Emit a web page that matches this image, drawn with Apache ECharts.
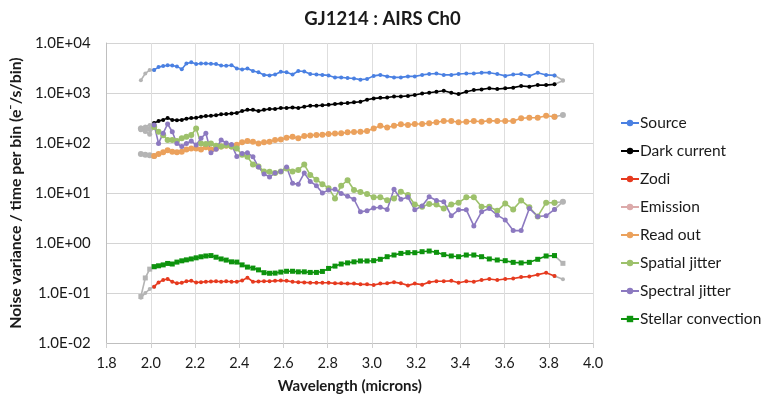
<!DOCTYPE html>
<html>
<head>
<meta charset="utf-8">
<script src="https://cdn.jsdelivr.net/npm/echarts@6/dist/echarts.min.js"></script>
<style>
  html, body { margin: 0; padding: 0; background: #fff; }
  #chart { width: 765px; height: 400px; }
</style>
</head>
<body>
<div id="chart"></div>
<script>
// Wavelength bins (microns); first three and last bins lie at the band edges.
const wavelengths = [
  1.955,1.975,1.995,2.015,2.035,2.056,2.076,2.097,2.118,2.140,
  2.161,2.183,2.205,2.227,2.249,2.272,2.295,2.318,2.341,2.365,
  2.389,2.413,2.437,2.462,2.487,2.512,2.537,2.562,2.588,2.614,
  2.641,2.667,2.694,2.721,2.749,2.776,2.804,2.833,2.861,2.890,
  2.919,2.948,2.978,3.008,3.038,3.069,3.100,3.131,3.163,3.194,
  3.227,3.259,3.292,3.325,3.359,3.392,3.427,3.461,3.496,3.531,
  3.567,3.603,3.639,3.675,3.712,3.750,3.788,3.826,3.864
];
const edgeStart = 3;   // bins before this index are edge bins
const edgeEnd = 67;    // bins after this index are edge bins

const source = [
  1800,2450,2900,2900,3300,3450,3600,3550,3400,3000,
  3900,4100,3800,3900,3900,3850,3800,3550,3500,3600,
  3100,2950,3100,2750,2600,2300,2250,2350,2650,2600,
  2350,2750,2700,2400,2350,2300,2250,2050,2050,2000,
  1950,1850,1900,2200,2300,2150,2050,2050,2150,2150,
  2300,2400,2450,2300,2300,2400,2450,2450,2550,2550,
  2400,2200,2350,2400,2200,2550,2300,2250,1800
];
const darkCurrent = [
  205,215,230,250,275,290,315,290,285,290,
  305,315,320,335,345,350,360,375,380,390,
  400,435,460,460,435,460,480,480,500,500,
  515,500,530,555,555,570,580,600,620,630,
  650,670,730,780,800,810,850,850,875,915,
  980,1010,1060,1110,1010,950,1060,1150,1180,1240,
  1200,1240,1280,1380,1340,1440,1440,1490,1750
];
const zodi = [
  0.080,0.100,0.120,0.134,0.163,0.182,0.190,0.168,0.156,0.160,
  0.172,0.175,0.163,0.165,0.168,0.170,0.172,0.168,0.172,0.168,
  0.168,0.178,0.203,0.168,0.170,0.172,0.172,0.175,0.178,0.175,
  0.168,0.165,0.163,0.160,0.160,0.160,0.160,0.156,0.156,0.154,
  0.154,0.149,0.149,0.145,0.154,0.156,0.165,0.156,0.142,0.154,
  0.147,0.165,0.172,0.172,0.175,0.160,0.172,0.168,0.182,0.190,
  0.182,0.190,0.195,0.208,0.214,0.233,0.255,0.219,0.188
];
const emission = [];
const readOut = [
  60,58,57,55,60,65,72,67,65,67,
  74,78,78,74,82,74,78,85,88,85,
  92,103,110,106,98,103,106,115,118,128,
  134,125,138,142,145,147,152,154,156,164,
  166,168,173,196,222,205,222,236,230,240,
  240,248,260,275,275,260,267,275,267,280,
  275,275,275,312,320,320,350,335,363
];
const spatialJitter = [
  195,200,190,210,168,143,115,115,110,124,
  134,145,195,98,95,98,88,85,90,85,
  78,58,53,37,34,27,26.5,25,27,31,
  27,29,37,23,18.5,15,12.5,7.8,14,18,
  11.5,10.5,9.5,8.2,8.2,7.2,7.8,10.6,9.1,5.9,
  5.3,6.0,5.9,4.9,5.9,6.4,8.2,8.2,5.3,5.3,
  4.4,6.2,4.7,7.1,5.2,3.4,6.4,6.4,6.7
];
const spectralJitter = [
  185,170,150,230,98,157,240,168,98,85,
  98,110,91,124,157,64,75,115,100,93,
  54,62,64,53,33,24,21,25,27,33,
  15.6,15,25,17,14,10,11.5,11.9,9.8,8.6,
  7.5,4.2,4.4,5.0,5.2,4.7,11.9,7.5,8.2,4.6,
  5.5,8.4,7.1,6.7,3.5,4.6,4.6,2.2,4.2,4.9,
  3.6,2.9,1.77,1.77,4.9,3.4,3.5,4.7,6.7
];
const stellarConvection = [
  0.085,0.2,0.3,0.336,0.35,0.365,0.39,0.38,0.415,0.44,
  0.46,0.48,0.505,0.53,0.55,0.56,0.52,0.48,0.455,0.42,
  0.415,0.365,0.33,0.315,0.29,0.255,0.248,0.25,0.262,0.272,
  0.272,0.265,0.265,0.258,0.258,0.27,0.31,0.345,0.38,0.4,
  0.42,0.437,0.437,0.443,0.472,0.532,0.575,0.62,0.64,0.64,
  0.67,0.69,0.65,0.585,0.55,0.532,0.575,0.575,0.532,0.48,
  0.457,0.443,0.41,0.4,0.41,0.472,0.55,0.56,0.392
];

const yTicks = [0.01, 0.1, 1, 10, 100, 1000, 10000];

const FONT = 'Lato';
const EDGE_GREY = '#b4b4b4';

const seriesDefs = [
  { name: 'Source',             values: source,            color: '#4a80e2', symbol: 'circle', size: 4 },
  { name: 'Dark current',       values: darkCurrent,       color: '#000000', symbol: 'circle', size: 4 },
  { name: 'Zodi',               values: zodi,              color: '#e63a1f', symbol: 'circle', size: 4 },
  { name: 'Emission',           values: emission,          color: '#dcaaaa', symbol: 'circle', size: 4 },
  { name: 'Read out',           values: readOut,           color: '#eba15c', symbol: 'circle', size: 6 },
  { name: 'Spatial jitter',     values: spatialJitter,     color: '#9dc16b', symbol: 'circle', size: 6 },
  { name: 'Spectral jitter',    values: spectralJitter,    color: '#8c79c0', symbol: 'circle', size: 5 },
  { name: 'Stellar convection', values: stellarConvection, color: '#0d930d', symbol: 'rect',   size: 5 }
];

function pairs(values, from, to) {
  const out = [];
  for (let i = from; i <= to && i < values.length; i++) out.push([wavelengths[i], values[i]]);
  return out;
}

const series = [];
seriesDefs.forEach(d => {
  const n = d.values.length;
  const base = {
    type: 'line', symbol: d.symbol, symbolSize: d.size, showSymbol: true,
    lineStyle: { width: 1.6 }, emphasis: { disabled: true }, silent: true
  };
  // grey band-edge segments
  if (n) {
    series.push(Object.assign({}, base, {
      name: d.name + ' (edge)', z: 2, color: EDGE_GREY,
      itemStyle: { color: EDGE_GREY }, lineStyle: { width: 1.6, color: EDGE_GREY },
      data: pairs(d.values, 0, edgeStart)
    }));
    series.push(Object.assign({}, base, {
      name: d.name + ' (edge end)', z: 2, color: EDGE_GREY,
      itemStyle: { color: EDGE_GREY }, lineStyle: { width: 1.6, color: EDGE_GREY },
      data: pairs(d.values, edgeEnd, n - 1)
    }));
  }
  series.push(Object.assign({}, base, {
    name: d.name, z: 3, color: d.color,
    itemStyle: { color: d.color }, lineStyle: { width: 1.6, color: d.color },
    data: n ? pairs(d.values, edgeStart, edgeEnd) : []
  }));
});

function sci(v) {
  const e = Math.round(Math.log10(v));
  return '1.0E' + (e < 0 ? '-' : '+') + String(Math.abs(e)).padStart(2, '0');
}

const chart = echarts.init(document.getElementById('chart'), null, { renderer: 'canvas' });
chart.setOption({
  animation: false,
  backgroundColor: '#ffffff',
  textStyle: { fontFamily: FONT },
  title: {
    text: 'GJ1214 : AIRS Ch0',
    left: 'center', top: 5,
    textStyle: { fontFamily: FONT, fontSize: 18.5, fontWeight: 'bold', color: '#1a1a1a' }
  },
  grid: { left: 100, right: 172, top: 43, bottom: 57 },
  legend: {
    orient: 'vertical', left: 615, top: 110,
    itemWidth: 18, itemHeight: 8, itemGap: 12,
    data: seriesDefs.map(d => d.name),
    textStyle: { fontFamily: FONT, fontSize: 15.5, color: '#1a1a1a', lineHeight: 16, padding: [0, 0, 0, -4] }
  },
  xAxis: {
    type: 'value', min: 1.8, max: 4.0, interval: 0.2,
    name: 'Wavelength (microns)', nameLocation: 'middle', nameGap: 36,
    nameTextStyle: { fontFamily: FONT, fontSize: 15, fontWeight: 'bold', color: '#1a1a1a' },
    axisLine: { lineStyle: { color: '#bfbfbf' } },
    axisTick: { show: true, length: 5, lineStyle: { color: '#d0d0d0' } },
    axisLabel: { fontFamily: FONT, fontSize: 14.5, color: '#1a1a1a', margin: 13, formatter: v => v.toFixed(1) },
    splitLine: { show: true, lineStyle: { color: '#dedede' } }
  },
  yAxis: {
    type: 'log', logBase: 10, min: yTicks[0], max: yTicks[yTicks.length - 1], interval: 1,
    name: 'Noise variance / time per bin (e\u207B/s/bin)', nameLocation: 'middle', nameGap: 78, nameRotate: 90,
    nameTextStyle: { fontFamily: FONT, fontSize: 15.8, fontWeight: 'bold', color: '#1a1a1a' },
    axisLine: { show: true, lineStyle: { color: '#bfbfbf' } },
    axisTick: { show: false },
    axisLabel: { fontFamily: FONT, fontSize: 15, color: '#1a1a1a', margin: 16, formatter: sci },
    splitLine: { show: true, lineStyle: { color: '#d4d4d4' } }
  },
  series: series
});
</script>
</body>
</html>
